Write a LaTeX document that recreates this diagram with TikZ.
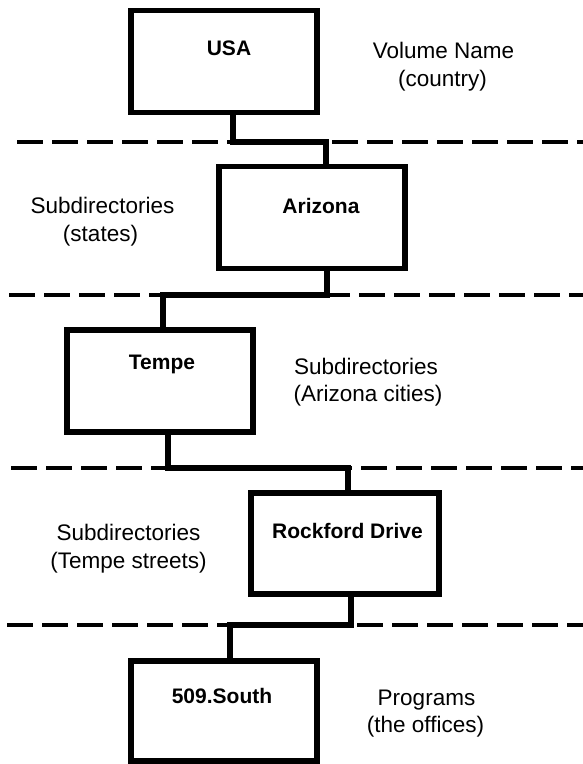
\documentclass[tikz,border=0pt]{standalone}
\usepackage{fontspec}
\setmainfont{Liberation Sans}
\begin{document}
\begin{tikzpicture}[x=1pt,y=-1pt,
  box/.style={draw, line width=5.5pt, minimum width=186pt, minimum height=102pt, inner sep=0pt, outer sep=0pt, line join=miter},
  conn/.style={line width=5.5pt, line join=miter},
  divider/.style={line width=4.5pt, dash pattern=on 26pt off 9pt},
  blabel/.style={anchor=base, font=\fontsize{21}{25}\selectfont\bfseries, inner sep=0pt},
  rlabel/.style={anchor=base, font=\fontsize{22.5}{27}\selectfont, inner sep=0pt}]
\useasboundingbox (0,0) rectangle (583,764);

% divider end points
\coordinate (L1) at (17,142);  \coordinate (R1) at (583,142);
\coordinate (L2) at (9,295);   \coordinate (R2) at (583,295);
\coordinate (L3) at (11,468);  \coordinate (R3) at (583,468);
\coordinate (L4) at (7,625);   \coordinate (R4) at (583,625);
\draw[divider] (L1) -- (R1);
\draw[divider] (L2) -- (R2);
\draw[divider] (L3) -- (R3);
\draw[divider] (L4) -- (R4);

% boxes
\node[box] (usa) at (224,61.5) {};
\node[box] (ariz) at (312,217.5) {};
\node[box] (tempe) at (160,381) {};
\node[box, minimum width=188pt, minimum height=101pt] (rock) at (345,543.5) {};
\node[box, minimum height=100pt] (south) at (224,711) {};

% box labels
\node[blabel] (usaL) at (229,55) {USA};
\node[blabel] (arizL) at (321,213) {Arizona};
\node[blabel] (tempeL) at (162,369) {Tempe};
\node[blabel] (rockL) at (347.5,538) {Rockford Drive};
\node[blabel] (southL) at (222,703) {509.South};

% side labels
\node[rlabel] (vn1) at (443.5,58) {Volume Name};
\node[rlabel] (vn2) at (442.5,86) {(country)};
\node[rlabel] (st1) at (102.5,213) {Subdirectories};
\node[rlabel] (st2) at (100.5,241) {(states)};
\node[rlabel] (ci1) at (366,374) {Subdirectories};
\node[rlabel] (ci2) at (368,401) {(Arizona cities)};
\node[rlabel] (sr1) at (128.5,540) {Subdirectories};
\node[rlabel] (sr2) at (128.5,568) {(Tempe streets)};
\node[rlabel] (pr1) at (426.5,705) {Programs};
\node[rlabel] (pr2) at (425.5,732) {(the offices)};

% connector anchor points
\coordinate (c1a) at ([xshift=9pt]usa.south);
\coordinate (c1b) at ([xshift=14pt]ariz.north);
\coordinate (c2a) at ([xshift=15pt]ariz.south);
\coordinate (c2b) at ([xshift=3pt]tempe.north);
\coordinate (c3a) at ([xshift=8pt]tempe.south);
\coordinate (c3b) at ([xshift=3pt]rock.north);
\coordinate (c4a) at ([xshift=6pt]rock.south);
\coordinate (c4b) at ([xshift=6pt]south.north);

\draw[conn] (c1a) -- (c1a |- L1) -| (c1b);
\draw[conn] (c2a) -- (c2a |- L2) -| (c2b);
\draw[conn] (c3a) -- (c3a |- L3) -| (c3b);
\draw[conn] (c4a) -- (c4a |- L4) -| (c4b);
\end{tikzpicture}
\end{document}
